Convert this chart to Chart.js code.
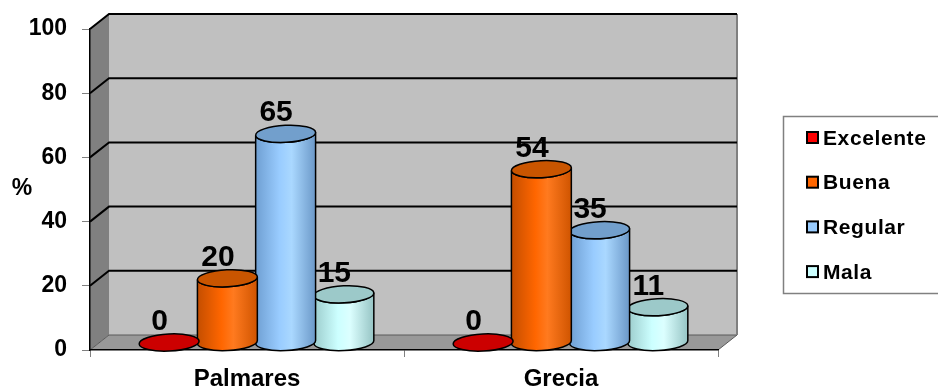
<!DOCTYPE html>
<html>
<head>
<meta charset="utf-8">
<script src="https://cdn.jsdelivr.net/npm/chart.js@4.4.1/dist/chart.umd.min.js"></script>
<style>
  html, body { margin: 0; padding: 0; background: #fff; }
  canvas { display: block; }
</style>
</head>
<body>
<canvas id="chart" width="938" height="390"></canvas>
<script>
// Survey results (%), by town
const categories = ['Palmares', 'Grecia'];
const seriesNames = ['Excelente', 'Buena', 'Regular', 'Mala'];
const excelente = [0, 0];
const buena = [20, 54];
const regular = [65, 35];
const mala = [15, 11];
const yTicks = [0, 20, 40, 60, 80, 100];

// Cylinder colouring: swatch, dark edges, body mid, highlight, top face
const styles = [
  { swatch: '#ff0000', edge: '#a80000', mid: '#cc0000', light: '#dd1a1a', edge2: '#a80000', top: '#cc0000' },
  { swatch: '#ff6600', edge: '#c44e00', mid: '#ff6600', light: '#ff7a1f', edge2: '#cf5400', top: '#c95500' },
  { swatch: '#99ccff', edge: '#6f9fd2', mid: '#99ccff', light: '#aad8ff', edge2: '#6b98c8', top: '#729fcc' },
  { swatch: '#ccffff', edge: '#9ccccc', mid: '#ccffff', light: '#dcffff', edge2: '#96c4c4', top: '#9cc9c9' }
];

// Depth offset of the back plane relative to the front plane
const DX = 19, DY = -15;
const RY = 8.5, TILT = -0.05;
const FONT = '"Liberation Sans", Arial, sans-serif';

function poly(ctx, pts, fill) {
  ctx.beginPath();
  ctx.moveTo(pts[0][0], pts[0][1]);
  for (let i = 1; i < pts.length; i++) ctx.lineTo(pts[i][0], pts[i][1]);
  ctx.closePath();
  ctx.fillStyle = fill;
  ctx.fill();
}

function ellPoint(cx, cy, rx, ry, t) {
  const c = Math.cos(TILT), s = Math.sin(TILT);
  return [cx + rx * Math.cos(t) * c - ry * Math.sin(t) * s,
          cy + rx * Math.cos(t) * s + ry * Math.sin(t) * c];
}

function cylinder(ctx, cx, top, base, rx, st) {
  ctx.lineWidth = 1.5;
  ctx.strokeStyle = '#000';
  if (base - top > 0.5) {
    const g = ctx.createLinearGradient(cx - rx, 0, cx + rx, 0);
    g.addColorStop(0, st.edge);
    g.addColorStop(0.4, st.mid);
    g.addColorStop(0.6, st.light);
    g.addColorStop(1, st.edge2);
    const lt = ellPoint(cx, top, rx, RY, Math.PI);
    const lb = ellPoint(cx, base, rx, RY, Math.PI);
    const rt = ellPoint(cx, top, rx, RY, 0);
    ctx.beginPath();
    ctx.moveTo(lt[0], lt[1]);
    ctx.lineTo(lb[0], lb[1]);
    ctx.ellipse(cx, base, rx, RY, TILT, Math.PI, 0, true);
    ctx.lineTo(rt[0], rt[1]);
    ctx.ellipse(cx, top, rx, RY, TILT, 0, Math.PI, false);
    ctx.closePath();
    ctx.fillStyle = g;
    ctx.fill();
    ctx.stroke();
  }
  ctx.beginPath();
  ctx.ellipse(cx, top, rx, RY, TILT, 0, Math.PI * 2);
  ctx.fillStyle = st.top;
  ctx.fill();
  ctx.stroke();
}

const depth3d = {
  id: 'depth3d',
  beforeDraw(chart) {
    const { ctx, chartArea: a, scales: { y } } = chart;
    ctx.save();
    // back wall
    ctx.fillStyle = '#c0c0c0';
    ctx.fillRect(a.left + DX, a.top + DY, a.right - a.left, a.bottom - a.top);
    // side wall
    poly(ctx, [[a.left, a.top], [a.left + DX, a.top + DY], [a.left + DX, a.bottom + DY], [a.left, a.bottom]], '#808080');
    // floor
    poly(ctx, [[a.left, a.bottom], [a.right, a.bottom], [a.right + DX, a.bottom + DY], [a.left + DX, a.bottom + DY]], '#999999');
    // floor edges
    ctx.strokeStyle = '#5a5a5a';
    ctx.lineWidth = 1;
    ctx.beginPath();
    ctx.moveTo(a.left, a.bottom); ctx.lineTo(a.left + DX, a.bottom + DY); ctx.lineTo(a.right + DX, a.bottom + DY);
    ctx.moveTo(a.right, a.bottom); ctx.lineTo(a.right + DX, a.bottom + DY);
    ctx.stroke();
    // back wall right edge
    ctx.strokeStyle = '#808080';
    ctx.lineWidth = 2;
    ctx.beginPath();
    ctx.moveTo(a.right + DX, a.top + DY); ctx.lineTo(a.right + DX, a.bottom + DY);
    ctx.stroke();
    // gridlines across side and back walls
    ctx.strokeStyle = '#000';
    ctx.lineWidth = 2;
    y.ticks.forEach(t => {
      if (t.value === 0) return;
      const py = y.getPixelForValue(t.value);
      ctx.beginPath();
      ctx.moveTo(a.left, py);
      ctx.lineTo(a.left + DX, py + DY);
      ctx.lineTo(a.right + DX, py + DY);
      ctx.stroke();
    });
    ctx.restore();
  },
  beforeDatasetsDraw(chart) {
    const { ctx } = chart;
    ctx.save();
    const n = chart.data.datasets.length;
    const cats = chart.data.labels.length;
    for (let j = 0; j < cats; j++) {
      for (let i = n - 1; i >= 0; i--) {
        const bar = chart.getDatasetMeta(i).data[j];
        const cx = bar.x + DX / 2;
        cylinder(ctx, cx, bar.y + DY / 2, bar.base + DY / 2, bar.width / 2 * 1.03, styles[i]);
      }
    }
    ctx.restore();
    return false;
  },
  afterDraw(chart) {
    const { ctx, data } = chart;
    ctx.save();
    // value labels
    ctx.fillStyle = '#000';
    ctx.font = 'bold 30px ' + FONT;
    ctx.textAlign = 'center';
    ctx.textBaseline = 'alphabetic';
    data.datasets.forEach((ds, i) => {
      chart.getDatasetMeta(i).data.forEach((bar, j) => {
        const topY = bar.y + DY / 2;
        ctx.fillText(String(ds.data[j]), bar.x, topY - RY - 4);
      });
    });
    // axis title
    ctx.font = 'bold 23px ' + FONT;
    ctx.textBaseline = 'middle';
    ctx.fillText('%', 22, 189);
    // legend
    ctx.fillStyle = '#fff';
    ctx.fillRect(783, 116, 170, 177);
    ctx.strokeStyle = '#808080';
    ctx.lineWidth = 1.5;
    ctx.strokeRect(783.5, 116.5, 170, 177);
    ctx.font = 'bold 21px ' + FONT;
    ctx.letterSpacing = '0.6px';
    ctx.textAlign = 'left';
    data.datasets.forEach((ds, i) => {
      const cy = 138 + i * 44.7;
      ctx.fillStyle = styles[i].swatch;
      ctx.fillRect(807, cy - 6, 11, 11);
      ctx.strokeStyle = '#000';
      ctx.lineWidth = 2;
      ctx.strokeRect(807, cy - 6, 11, 11);
      ctx.fillStyle = '#000';
      ctx.fillText(ds.label, 823, cy + 1);
    });
    ctx.letterSpacing = '0px';
    ctx.restore();
  }
};

const seriesValues = [excelente, buena, regular, mala];

new Chart(document.getElementById('chart'), {
  type: 'bar',
  data: {
    labels: categories,
    datasets: seriesNames.map((name, i) => ({
      label: name,
      data: seriesValues[i],
      backgroundColor: styles[i].swatch,
      categoryPercentage: 0.742,
      barPercentage: 1.0
    }))
  },
  options: {
    responsive: false,
    animation: false,
    events: [],
    layout: { padding: { left: 0, top: 29, right: 220, bottom: 0 } },
    plugins: { legend: { display: false }, tooltip: { enabled: false } },
    scales: {
      x: {
        afterFit(s) { s.height = 40; },
        grid: { drawOnChartArea: false, drawTicks: true, tickLength: 7, color: '#808080', offset: true },
        border: { display: true, color: '#000', width: 1.5 },
        ticks: { color: '#000', font: { family: FONT, size: 24, weight: 'bold' }, padding: 8, maxRotation: 0 }
      },
      y: {
        min: 0,
        max: 100,
        afterFit(s) { s.width = 90; },
        afterBuildTicks(s) { s.ticks = yTicks.map(v => ({ value: v })); },
        grid: { drawOnChartArea: false, drawTicks: true, tickLength: 8, color: '#808080' },
        border: { display: true, color: '#000', width: 1.5 },
        ticks: { color: '#000', font: { family: FONT, size: 23, weight: 'bold' }, padding: 15 }
      }
    }
  },
  plugins: [depth3d]
});
</script>
</body>
</html>
